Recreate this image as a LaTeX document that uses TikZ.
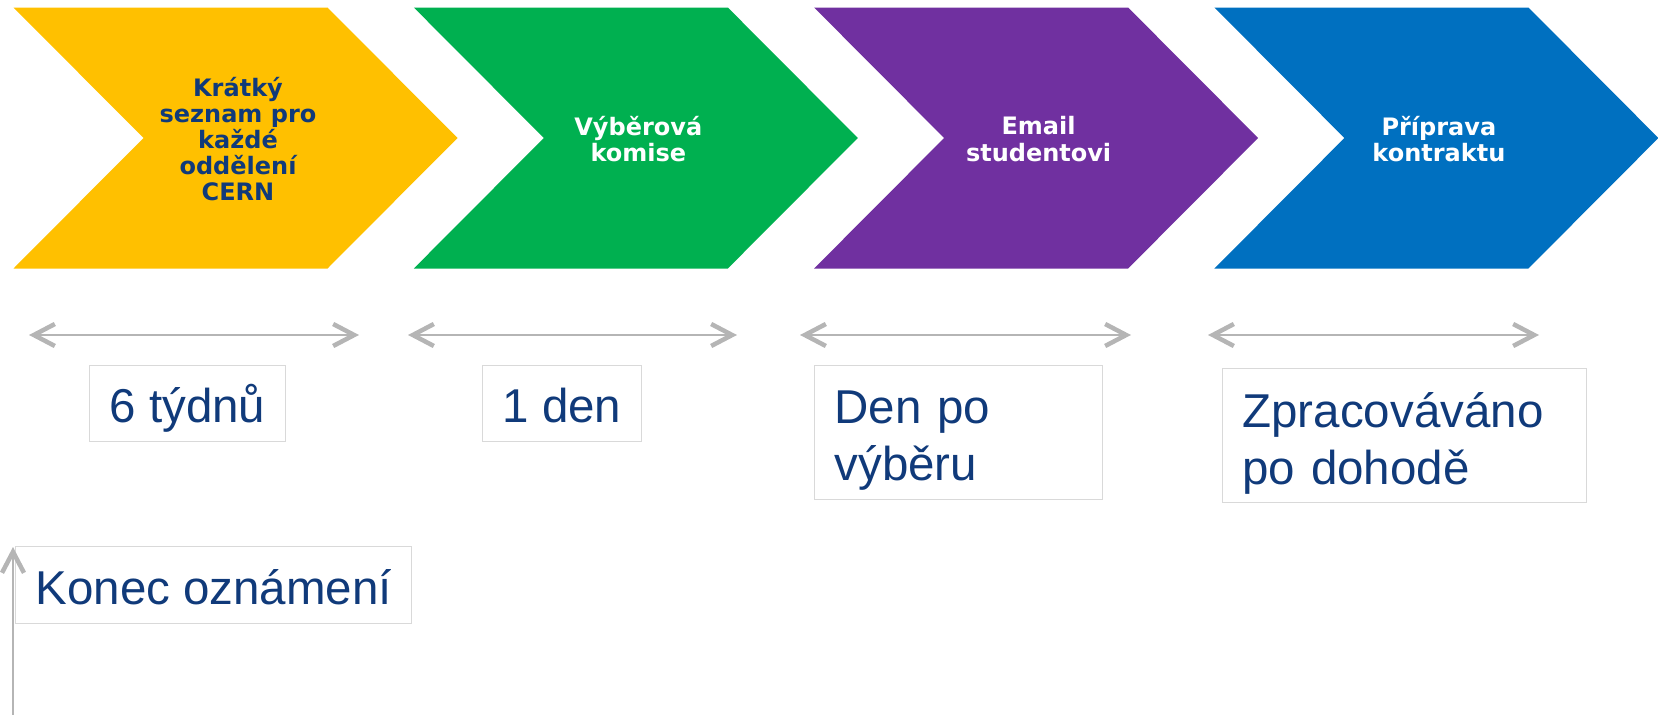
\documentclass[tikz,border=0pt]{standalone}
\usepackage{fontspec}
\setmainfont{Liberation Sans}
\newfontfamily\stepfont{DejaVu Sans}
\usetikzlibrary{arrows.meta}

\definecolor{cernyellow}{HTML}{FFC000}
\definecolor{cerngreen}{HTML}{00B050}
\definecolor{cernpurple}{HTML}{7030A0}
\definecolor{cernblue}{HTML}{0070C0}
\definecolor{txtblue}{HTML}{103A7A}
\definecolor{boxgray}{HTML}{D9D9D9}
\definecolor{linegray}{HTML}{B5B5B5}

\begin{document}
\begin{tikzpicture}[x=1pt, y=-1pt,
    stepnode/.style={font=\stepfont\bfseries\fontsize{24}{26.2}\selectfont, align=center, text=white},
    lbl/.style={draw=boxgray, line width=1pt, anchor=north west, inner xsep=20pt, inner ysep=0pt,
        align=left, text=txtblue, font=\fontsize{47.5}{57}\selectfont},
    barb/.tip={Straight Barb[length=21pt, width=22pt, line width=4.5pt]},
    span/.style={draw=linegray, line width=2pt, barb-barb}]
    \useasboundingbox (0,0) rectangle (1658,715);

    % Kratky seznam
    \fill[cernyellow, shift={(13.5,0)}] (0,7.5) -- (314,7.5) -- (444,138) -- (314,268.5) -- (0,268.5) -- (130,138) -- cycle;
    \node[stepnode, text=txtblue] (s1) at (238,139) {Krátký\\seznam pro\\každé\\oddělení\\CERN};

    % Vyberova komise
    \fill[cerngreen, shift={(413.8,0)}] (0,7.5) -- (314,7.5) -- (444,138) -- (314,268.5) -- (0,268.5) -- (130,138) -- cycle;
    \node[stepnode] (s2) at (638.3,139) {Výběrová\\komise};

    % Email studentovi
    \fill[cernpurple, shift={(814.1,0)}] (0,7.5) -- (314,7.5) -- (444,138) -- (314,268.5) -- (0,268.5) -- (130,138) -- cycle;
    \node[stepnode] (s3) at (1038.6,139) {Email\\studentovi};

    % Priprava kontraktu
    \fill[cernblue, shift={(1214.4,0)}] (0,7.5) -- (314,7.5) -- (444,138) -- (314,268.5) -- (0,268.5) -- (130,138) -- cycle;
    \node[stepnode] (s4) at (1438.9,139) {Příprava\\kontraktu};

    % Durations
    \coordinate (a1) at (29,335);   \coordinate (b1) at (359,335);
    \coordinate (a2) at (408,335);  \coordinate (b2) at (737,335);
    \coordinate (a3) at (800,335);  \coordinate (b3) at (1131,335);
    \coordinate (a4) at (1208,335); \coordinate (b4) at (1539,335);
    \draw[span] (a1) -- (b1);
    \draw[span] (a2) -- (b2);
    \draw[span] (a3) -- (b3);
    \draw[span] (a4) -- (b4);

    \node[lbl, text height=56.7pt, text depth=19.3pt] (d1) at (89,365) {6 týdnů};
    \node[lbl, text height=56.7pt, text depth=19.3pt] (d2) at (482,365) {1 den};
    \node[lbl, text width=248pt, text height=58pt, text depth=76pt] (d3) at (814,365) {Den po\\výběru};
    \node[lbl, text width=324pt, text height=58.7pt, text depth=75.3pt] (d4) at (1222,368) {Zpracováváno\\po dohodě};

    % Deadline
    \node[lbl, text height=58pt, text depth=19pt] (end) at (15,546) {Konec oznámení};
    \coordinate (t0) at (13,715);
    \coordinate (t1) at (13,547);
    \draw[draw=linegray, line width=2pt, -barb] (t0) -- (t1);
\end{tikzpicture}
\end{document}
